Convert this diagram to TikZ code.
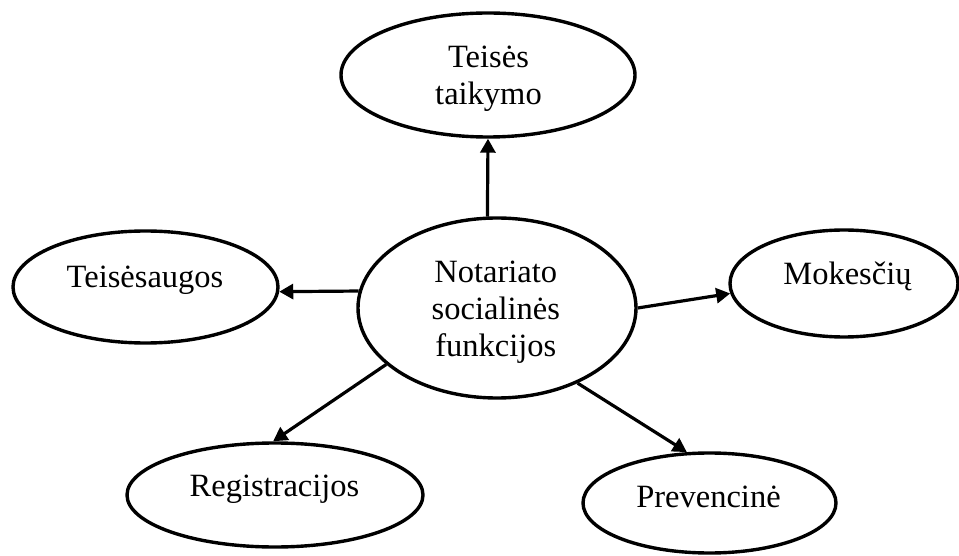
\documentclass[tikz,border=0pt]{standalone}
\usepackage{fontspec}
\setmainfont{Liberation Serif}
\usetikzlibrary{shapes.geometric,arrows.meta}
\begin{document}
\begin{tikzpicture}[x=1pt,y=1pt,
  oval/.style={draw,ellipse,line width=3.4pt,inner sep=0pt},
  txt/.style={inner sep=0pt,align=center,font=\fontsize{32.5}{37}\selectfont},
  conn/.style={line width=3.2pt,-{Triangle[length=14pt,width=15pt]}}]
\useasboundingbox (0,0) rectangle (959,555);
% ellipses
\node[oval,minimum width=294pt,minimum height=124pt] (T) at (488,480) {};
\node[oval,minimum width=278pt,minimum height=180pt] (C) at (497,247) {};
\node[oval,minimum width=265pt,minimum height=112pt] (L) at (145.5,268) {};
\node[oval,minimum width=228pt,minimum height=107pt] (R) at (844,271.5) {};
\node[oval,minimum width=296pt,minimum height=104pt] (BL) at (275,60) {};
\node[oval,minimum width=253pt,minimum height=100pt] (BR) at (709.5,52) {};
% texts
\node[txt] (Tt) at (488.5,475.8) {Teisės\\taikymo};
\node[txt] (Ct) at (495.8,243) {Notariato\\socialinės\\funkcijos};
\node[txt,anchor=base] (Lt) at (145,267) {Teisėsaugos};
\node[txt,anchor=base] (Rt) at (847.5,270) {Mokesčių};
\node[txt,anchor=base] (BLt) at (274.5,59) {Registracijos};
\node[txt,anchor=base] (BRt) at (708.5,47.3) {Prevencinė};
% connectors
\draw[conn] (C.96) -- (T.south);
\draw[conn] (C.173.8) -- (L.-2.6);
\draw[conn] (C.-0.8) -- (R.185.8);
\draw[conn] (C.207.6) -- (BL.92.2);
\draw[conn] (C.-43.2) -- (BR.114.2);
\end{tikzpicture}
\end{document}
